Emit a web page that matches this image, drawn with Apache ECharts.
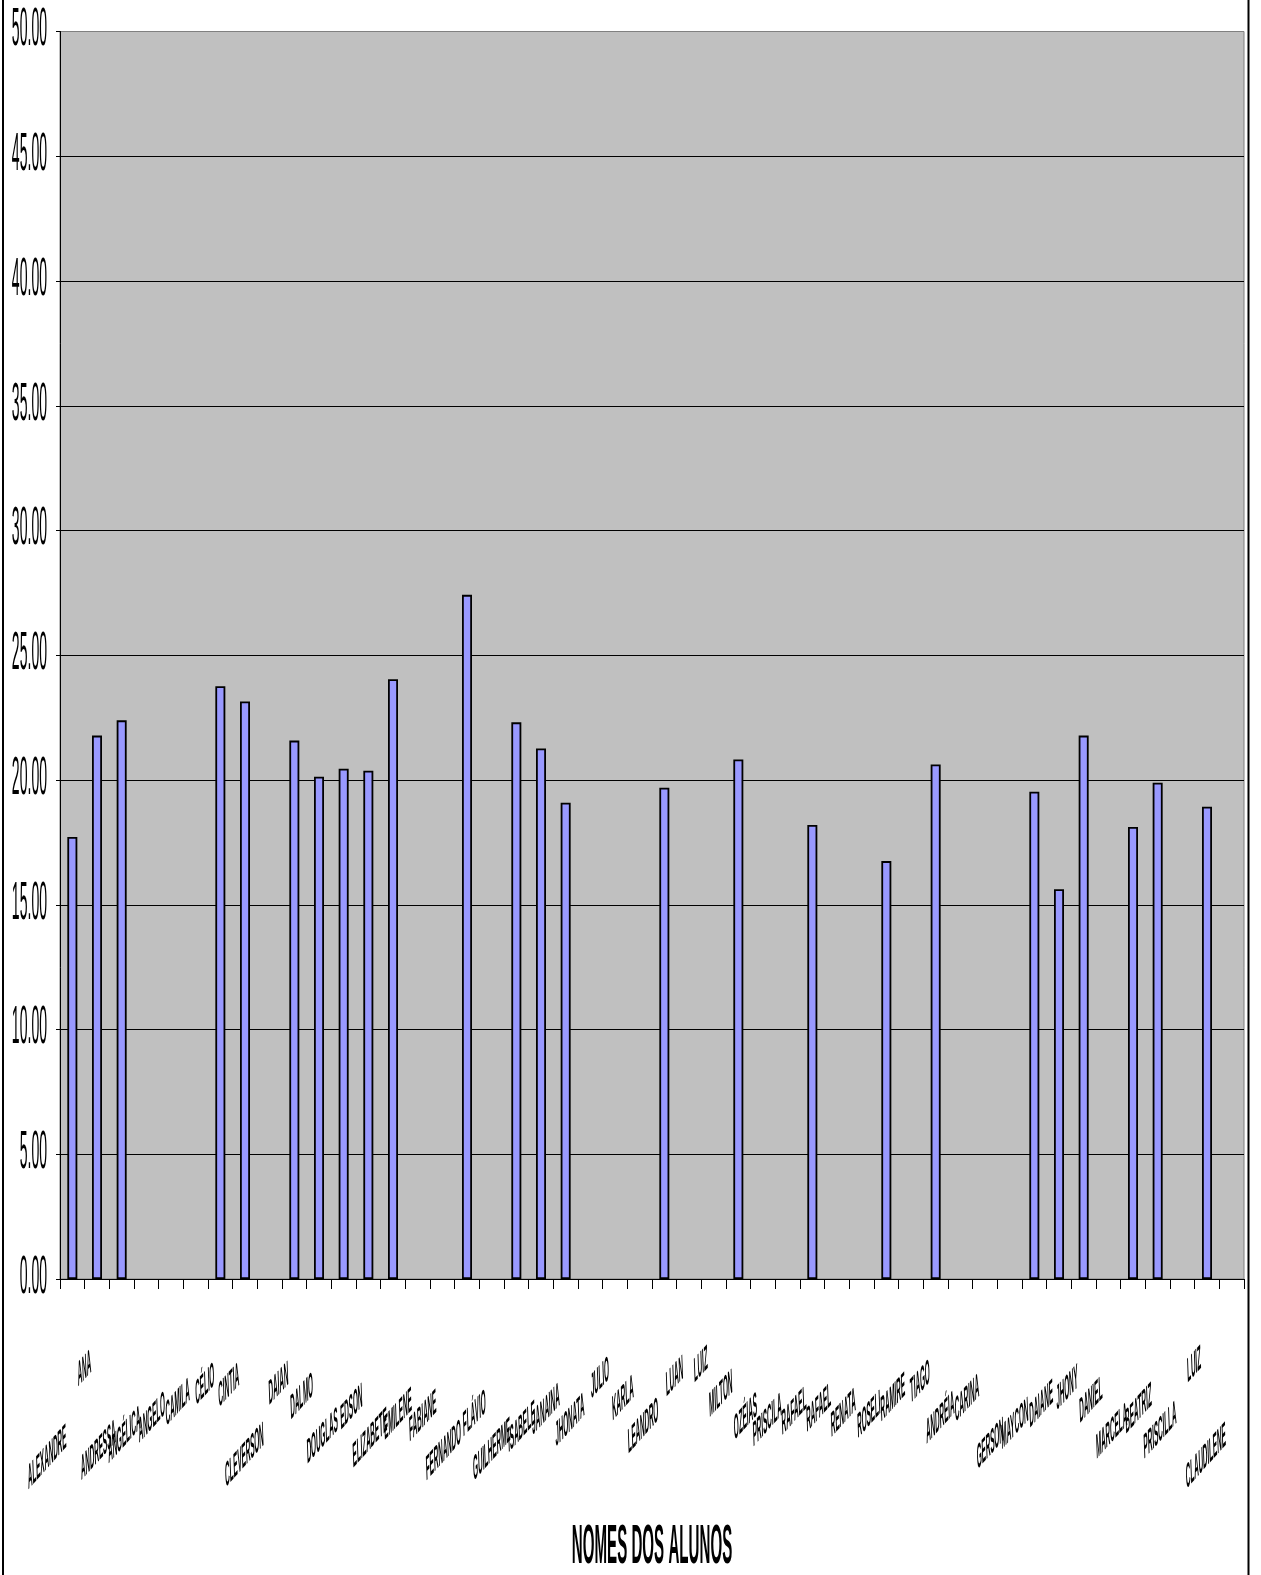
<!DOCTYPE html>
<html><head><meta charset="utf-8">
<script src="https://cdn.jsdelivr.net/npm/echarts@6/dist/echarts.min.js"></script>
<style>html,body{margin:0;padding:0;background:#fff}#c{width:1261px;height:1575px}</style>
</head><body><div id="c"></div>
<script>
// ---- data ----
const categories = ['ALEXANDRE','ANA','ANDRESSA','ANGÉLICA','ANGELO','CAMILA','CÉLIO','CINTIA','CLEVERSON','DAIAN','DALMO','DOUGLAS','EDSON','ELIZABETE','EMILENE','FABIANE','FERNANDO','FLÁVIO','GUILHERME','ISABELE','JANAINA','JHONATA','JULIO','KARLA','LEANDRO','LUAN','LUIZ','MILTON','OZÉIAS','PRISCILA','RAFAEL','RAFAEL ','RENATA','ROSELI','RAMIRE','TIAGO','ANDRÉIA','CARINA','GERSON','MAYCON','DAIANE','JHONY','DANIEL','MARCELA','BEATRIZ','PRISCILLA','LUIZ ','CLAUDILENE'];
const scores = [17.72,21.78,22.39,null,null,null,23.76,23.15,null,21.58,20.13,20.45,20.37,24.04,null,null,27.42,null,22.31,21.26,19.09,null,null,null,19.69,null,null,20.82,null,null,18.20,null,null,16.75,null,20.62,null,null,null,19.53,15.62,21.78,null,18.12,19.89,null,18.93,null];
const yTicks = [0,5,10,15,20,25,30,35,40,45,50];
const axisTitle = 'NOMES DOS ALUNOS';

// ---- layout (label drop below the axis, px) ----
const labelDrop = [158,83,153,139,125,111,96,96,156,95,106,141,117,141,121,123,153,123,151,134,116,126,90,108,131,89,79,103,126,126,119,116,121,124,106,93,124,107,151,131,113,98,109,136,116,134,79,156];

const chart = echarts.init(document.getElementById('c'), null, {renderer:'canvas'});
const gridColors = yTicks.map((v,i)=> i===yTicks.length-1 ? '#808080' : '#000000');
chart.setOption({
  animation:false,
  backgroundColor:'#ffffff',
  grid:{left:60,right:17,top:31.5,bottom:296,show:true,backgroundColor:'#C0C0C0',borderColor:'#808080',borderWidth:1},
  xAxis:{type:'category',data:categories,boundaryGap:true,
    axisLine:{show:true,lineStyle:{color:'#000',width:1}},
    axisTick:{show:true,interval:0,length:10,inside:false,lineStyle:{color:'#000',width:1}},
    axisLabel:{show:false,interval:0},splitLine:{show:false}},
  yAxis:{type:'value',min:0,max:50,interval:5,
    axisLine:{show:true,lineStyle:{color:'#000',width:1}},
    axisTick:{show:true,length:4,lineStyle:{color:'#000'}},
    axisLabel:{show:false},
    splitLine:{show:true,lineStyle:{color:gridColors,width:1}}},
  series:[{type:'bar',data:scores,barWidth:10,
    itemStyle:{color:'#9999FF',borderColor:'#000',borderWidth:1.8}}]
});

const K = 0.26;
const KX = 0.18;
const TH = Math.atan(KX * 1.12);
const g = [];
const axisY = chart.convertToPixel({yAxisIndex:0}, 0);
yTicks.forEach(v => {
  const py = chart.convertToPixel({yAxisIndex:0}, v);
  g.push({type:'group', x:47, y:py-1, scaleX:K, silent:true, children:[
    {type:'text', style:{text:v.toFixed(2), fontSize:54, fontFamily:'"Liberation Sans", Arial, sans-serif', fill:'#000', align:'right', verticalAlign:'middle'}}
  ]});
});
categories.forEach((name,i) => {
  const px = chart.convertToPixel({xAxisIndex:0}, i);
  g.push({type:'group', x:px-6, y:axisY+labelDrop[i], scaleX:KX, silent:true, children:[
    {type:'text', rotation:TH, style:{text:name.trim(), fontSize:35, fontWeight:'bold', fontFamily:'"Liberation Sans", Arial, sans-serif', fill:'#000', align:'right', verticalAlign:'middle'}}
  ]});
});
g.push({type:'group', x:652, y:1548, scaleX:0.27, silent:true, children:[
  {type:'text', style:{text:axisTitle, fontSize:56, fontWeight:'bold', fontFamily:'"Liberation Sans", Arial, sans-serif', fill:'#000', align:'center', verticalAlign:'middle'}}
]});
g.push({type:'rect', silent:true, shape:{x:3, y:-10, width:1245.5, height:1600}, style:{fill:'none', stroke:'#000', lineWidth:2}});
chart.setOption({graphic:g});
</script>
</body></html>
